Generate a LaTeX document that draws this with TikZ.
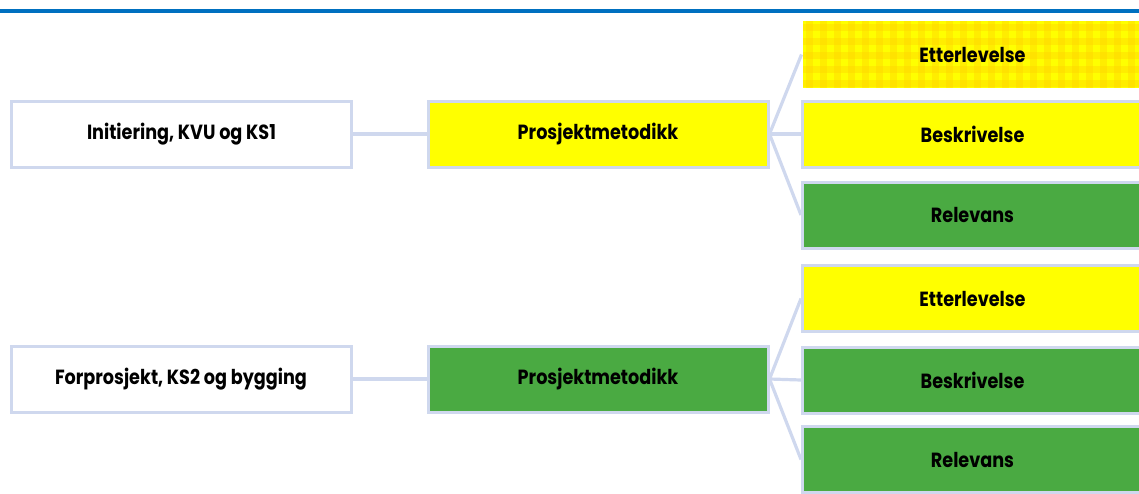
\documentclass[tikz,border=0pt]{standalone}
\usepackage{fontspec}
\newfontfamily\lbl{Poppins}[FakeStretch=0.86]
\definecolor{rule}{RGB}{0,112,192}
\definecolor{edge}{RGB}{207,216,238}
\definecolor{ylw}{RGB}{255,255,0}
\definecolor{grn}{RGB}{74,170,66}
\definecolor{gold}{RGB}{255,210,0}
\tikzset{
  box/.style={draw=edge, line width=3pt, minimum width=340pt, minimum height=66pt,
    inner sep=0pt, font=\lbl\bfseries\fontsize{20.5}{22}\selectfont, text=black},
  wbox/.style={box, fill=white},
  ybox/.style={box, fill=ylw},
  gbox/.style={box, fill=grn},
  link/.style={draw=edge, line width=3.2pt},
}
\begin{document}
\begin{tikzpicture}[x=1pt,y=-1pt]
  \useasboundingbox (0,0) rectangle (1139,493);
  \begin{scope}
  \clip (0,0) rectangle (1139,493);
  % blue rule along the top
  \fill[rule] (0,9) rectangle (1139,12.5);

  % phase 1
  \node[wbox] (init) at (181.5,134) {Initiering, KVU og KS1};
  \node[ybox] (pm1) at (598,134) {Prosjektmetodikk};
  % plaid-filled box (no outline)
  \fill[ylw] (803,21) rectangle (1142,88);
  \begin{scope}
    \clip (803,21) rectangle (1142,88);
    \foreach \i in {0,...,25} {
      \fill[gold, opacity=0.38] (803+14*\i+3,21) rectangle (803+14*\i+10,88);
    }
    \foreach \j in {0,...,5} {
      \fill[gold, opacity=0.38] (803,21+14*\j+3) rectangle (1142,21+14*\j+10);
    }
  \end{scope}
  \node[box, draw=none, minimum width=339pt, minimum height=67pt] (et1) at (972.5,54.5) {Etterlevelse};
  \node[ybox] (be1) at (972.5,134) {Beskrivelse};
  \node[gbox] (re1) at (972.5,215) {Relevans};

  % phase 2
  \node[wbox] (forp) at (181,379) {Forprosjekt, KS2 og bygging};
  \node[gbox] (pm2) at (598,379) {Prosjektmetodikk};
  \node[ybox] (et2) at (972.5,298.5) {Etterlevelse};
  \node[gbox] (be2) at (972.5,380) {Beskrivelse};
  \node[gbox] (re2) at (972.5,459.5) {Relevans};

  % connectors
  \draw[link] (init.east) -- (pm1.west);
  \draw[link] (pm1.east) -- (et1.west);
  \draw[link] (pm1.east) -- (be1.west);
  \draw[link] (pm1.east) -- (re1.west);
  \draw[link] (forp.east) -- (pm2.west);
  \draw[link] (pm2.east) -- (et2.west);
  \draw[link] (pm2.east) -- (be2.west);
  \draw[link] (pm2.east) -- (re2.west);
  \end{scope}
\end{tikzpicture}
\end{document}
